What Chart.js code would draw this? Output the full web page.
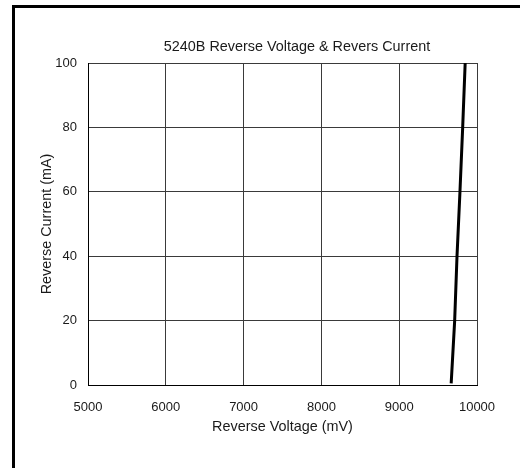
<!DOCTYPE html>
<html>
<head>
<meta charset="utf-8">
<title>5240B Reverse Voltage & Revers Current</title>
<script src="https://cdn.jsdelivr.net/npm/chart.js@4/dist/chart.umd.min.js"></script>
<style>
  html, body { margin: 0; padding: 0; background: #fff; }
  #wrap { position: relative; width: 520px; height: 468px; overflow: hidden; }
  #frame { position: absolute; left: 12px; top: 5px; width: 520px; height: 480px;
           border-top: 3px solid #000; border-left: 3px solid #000; }
  #grafico { position: absolute; left: 0; top: 0; }
</style>
</head>
<body>
<div id="wrap">
  <div id="frame"></div>
  <canvas id="grafico" width="520" height="468"></canvas>
</div>
<script>
// =====================================================================
// 5240B - Reverse Voltage x Reverse Current
// =====================================================================

const titulo = '5240B Reverse Voltage & Revers Current';
const tituloX = 'Reverse Voltage (mV)';
const tituloY = 'Reverse Current (mA)';

// curva (mV, mA)
const tensoes = [9668, 9713, 9743, 9781, 9816, 9848];
const correntes = [0.5, 20, 40, 60, 80, 100];

// eixos
const ticksX = [5000, 6000, 7000, 8000, 9000, 10000];
const ticksY = [0, 20, 40, 60, 80, 100];

const fonte = 'Arial, "Liberation Sans", sans-serif';
const corTexto = '#1a1a1a';

// título desenhado à mão: o plugin padrão centraliza no canvas inteiro
const tituloPlugin = {
  id: 'tituloCentrado',
  afterDraw(chart) {
    const ctx = chart.ctx;
    ctx.save();
    ctx.font = `14.4px ${fonte}`;
    ctx.fillStyle = corTexto;
    ctx.textAlign = 'center';
    ctx.textBaseline = 'middle';
    ctx.fillText(titulo, 297, 47);
    ctx.restore();
  }
};

new Chart(document.getElementById('grafico'), {
  type: 'line',
  data: {
    datasets: [{
      data: tensoes.map((v, i) => ({ x: v, y: correntes[i] })),
      borderColor: '#000',
      borderWidth: 3,
      pointRadius: 0,
      tension: 0,
      fill: false
    }]
  },
  options: {
    responsive: false,
    animation: false,
    layout: { padding: { left: 0, right: 43, top: 63, bottom: 0 } },
    plugins: { legend: { display: false }, tooltip: { enabled: false }, title: { display: false } },
    scales: {
      x: {
        type: 'linear',
        min: ticksX[0],
        max: ticksX[ticksX.length - 1],
        afterBuildTicks: (s) => { s.ticks = ticksX.map((v) => ({ value: v })); },
        afterFit: (s) => { s.height = 83; },
        ticks: { padding: 15, color: corTexto, font: { family: fonte, size: 13 }, maxRotation: 0, callback: (v) => String(v) },
        grid: { color: '#3a3a3a', lineWidth: 1, drawTicks: false },
        border: { color: '#000', width: 1 },
        title: { display: true, text: tituloX, color: corTexto, font: { family: fonte, size: 14.4 }, padding: { top: 0, bottom: 32 } }
      },
      y: {
        min: ticksY[0],
        max: ticksY[ticksY.length - 1],
        afterBuildTicks: (s) => { s.ticks = ticksY.map((v) => ({ value: v })); },
        afterFit: (s) => { s.width = 88; },
        ticks: { padding: 11, color: corTexto, font: { family: fonte, size: 13 }, callback: (v) => String(v) },
        grid: { color: '#3a3a3a', lineWidth: 1, drawTicks: false },
        border: { color: '#000', width: 1 },
        title: { display: true, text: tituloY, color: corTexto, font: { family: fonte, size: 14.4 }, padding: { top: 38, bottom: 0 } }
      }
    }
  },
  plugins: [tituloPlugin]
});
</script>
</body>
</html>
